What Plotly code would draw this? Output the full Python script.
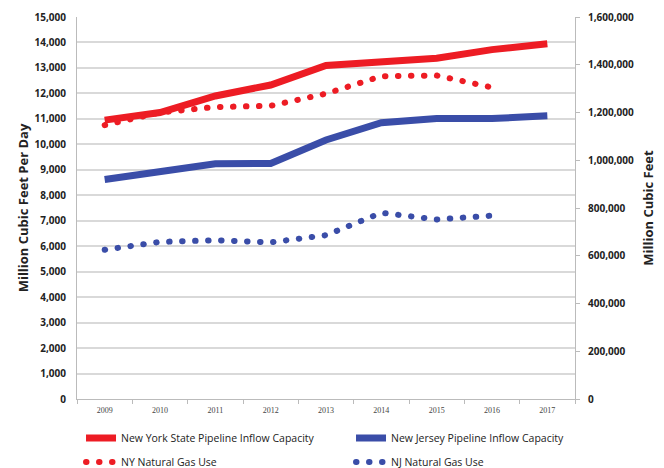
import plotly.graph_objects as go

years = ["2009", "2010", "2011", "2012", "2013", "2014", "2015", "2016", "2017"]
use_years = ["2009", "2010", "2011", "2012", "2013", "2014", "2015", "2016"]

ny_capacity = [10950, 11250, 11900, 12330, 13100, 13230, 13380, 13720, 13950]
nj_capacity = [8620, 8930, 9240, 9250, 10170, 10850, 11010, 11010, 11120]
ny_use = [1147000, 1200000, 1223000, 1228000, 1279000, 1352000, 1355000, 1305000]
nj_use = [625000, 658000, 665000, 656000, 686000, 780000, 752000, 768000]

left_ticks = list(range(0, 15001, 1000))
right_ticks = list(range(0, 1600001, 200000))

RED = "#ED1C24"
BLUE = "#3A4DA8"
FONT = "Open Sans"

fig = go.Figure()
fig.add_trace(go.Scatter(x=years, y=ny_capacity, mode="lines", name="New York State Pipeline Inflow Capacity",
                         line=dict(color=RED, width=7), legend="legend"))
fig.add_trace(go.Scatter(x=years, y=nj_capacity, mode="lines", name="New Jersey Pipeline Inflow Capacity",
                         line=dict(color=BLUE, width=7), legend="legend"))
fig.add_trace(go.Scatter(x=use_years, y=ny_use, mode="lines", name="NY Natural Gas Use", yaxis="y2",
                         line=dict(color=RED, width=6, dash="5px,8px"), legend="legend2"))
fig.add_trace(go.Scatter(x=use_years, y=nj_use, mode="lines", name="NJ Natural Gas Use", yaxis="y2",
                         line=dict(color=BLUE, width=6, dash="5px,8px"), legend="legend2"))

PLOT_H = 468 - 17 - 69
legend_common = dict(orientation="h", x=-0.006, xref="paper", yref="paper",
                     xanchor="left", yanchor="middle", indentation=7,
                     entrywidth=218, entrywidthmode="pixels", itemwidth=30,
                     font=dict(size=10.5, family=FONT, color="#222222"), bgcolor="rgba(0,0,0,0)")

fig.update_layout(
    width=664, height=468,
    margin=dict(l=77, r=89, t=17, b=69, autoexpand=False),
    paper_bgcolor="white", plot_bgcolor="white",
    font=dict(family=FONT, color="#222222"),
    xaxis=dict(type="category", range=[-0.5, 8.5], showgrid=False,
               showline=True, linecolor="#BBBBBB", linewidth=1,
               ticks="outside", ticklen=4, tickcolor="#BBBBBB", tickson="boundaries",
               ticklabelstandoff=3,
               tickfont=dict(size=8, color="#444444", family="Liberation Serif")),
    yaxis=dict(range=[0, 15000], tickvals=left_ticks, tickformat=",d",
               showgrid=True, gridcolor="#D9D9D9", gridwidth=1.5,
               showline=True, linecolor="#BBBBBB", zeroline=False, automargin=False,
               ticklabelstandoff=8,
               tickfont=dict(size=10, color="#222222", family=FONT, weight="bold"),
               title=dict(text="<b>Million Cubic Feet Per Day</b>", font=dict(size=13, family=FONT), standoff=2)),
    yaxis2=dict(range=[0, 1600000], tickvals=right_ticks, tickformat=",d", overlaying="y", side="right",
                showgrid=False, showline=True, linecolor="#BBBBBB", zeroline=False, automargin=False,
                ticks="outside", ticklen=4, tickcolor="#BBBBBB", ticklabelstandoff=6,
                tickfont=dict(size=10, color="#222222", family=FONT, weight="bold"),
                title=dict(text="<b>Million Cubic Feet</b>", font=dict(size=13, family=FONT), standoff=10)),
    legend=dict(legend_common, y=(399 - 438) / PLOT_H),
    legend2=dict(legend_common, y=(399 - 462) / PLOT_H),
    showlegend=True,
)

POST = """
document.body.style.margin='0';
document.body.style.overflow='hidden';
document.querySelectorAll('path').forEach(function(p){
  var d = p.style.strokeDasharray || '';
  if (d.indexOf('5px') !== -1 && d.indexOf('8px') !== -1) {
    p.style.strokeLinecap = 'round';
    p.style.strokeDasharray = '0.5px, 12.5px';
  }
});
"""

fig.write_html("out.html", config={"displayModeBar": False}, post_script=POST)
